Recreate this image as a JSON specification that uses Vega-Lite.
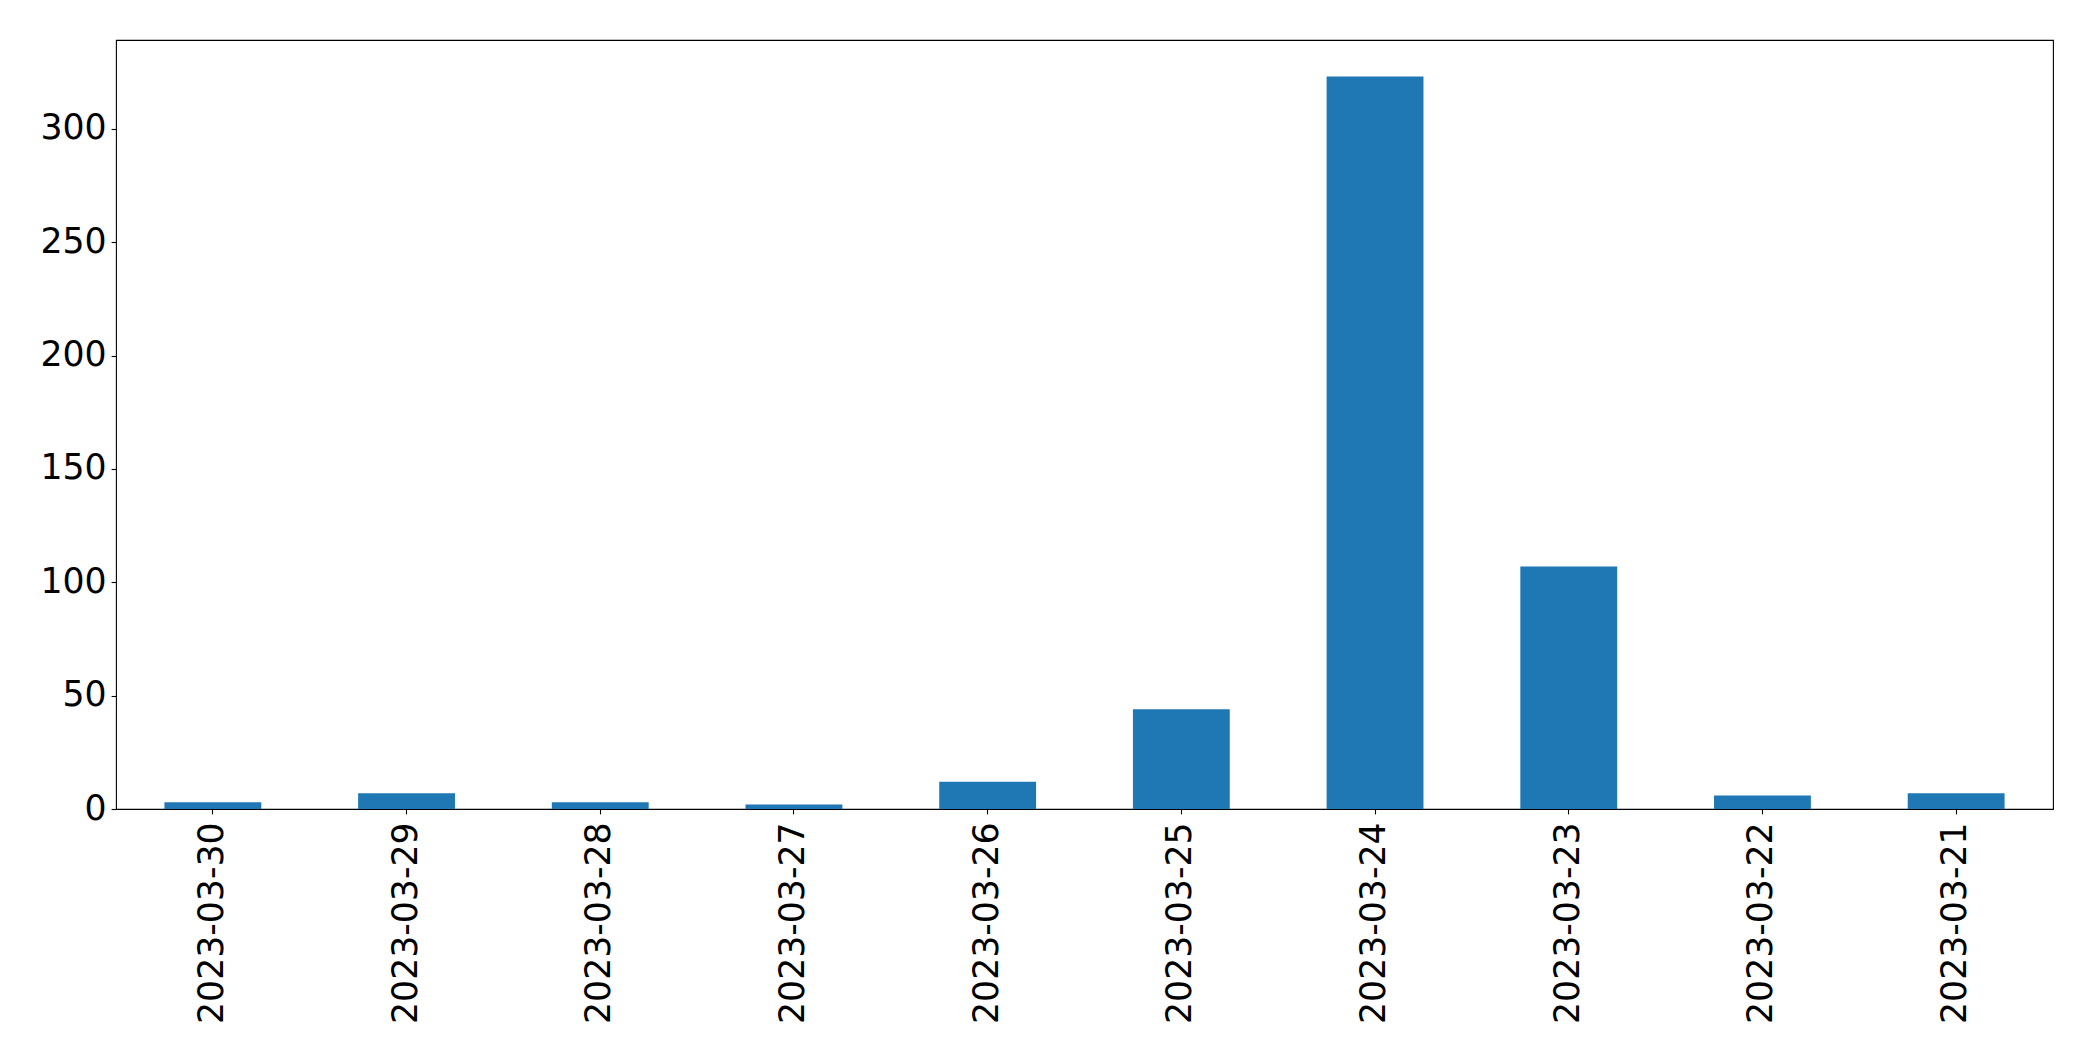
{
  "$schema": "https://vega.github.io/schema/vega-lite/v6.json",
  "autosize": {"type": "none"},
  "padding": {"left": 116, "top": 40, "right": 40, "bottom": 252},
  "width": 1937,
  "height": 769,
  "background": "white",
  "config": {
    "view": {"stroke": "black", "strokeWidth": 1.1},
    "font": "DejaVu Sans"
  },
  "data": {
    "values": [
      {"date": "2023-03-30", "count": 3},
      {"date": "2023-03-29", "count": 7},
      {"date": "2023-03-28", "count": 3},
      {"date": "2023-03-27", "count": 2},
      {"date": "2023-03-26", "count": 12},
      {"date": "2023-03-25", "count": 44},
      {"date": "2023-03-24", "count": 323},
      {"date": "2023-03-23", "count": 107},
      {"date": "2023-03-22", "count": 6},
      {"date": "2023-03-21", "count": 7}
    ]
  },
  "mark": {"type": "bar", "color": "#1f77b4"},
  "encoding": {
    "x": {
      "field": "date",
      "type": "nominal",
      "sort": null,
      "title": null,
      "scale": {"paddingInner": 0.5, "paddingOuter": 0.25},
      "axis": {
        "labelAngle": -90,
        "labelLimit": 0,
        "labelFont": "DejaVu Sans",
        "labelFontSize": 34.7,
        "labelColor": "black",
        "labelPadding": 8,
        "tickColor": "black",
        "tickWidth": 1.1,
        "tickSize": 4.9,
        "domain": false,
        "grid": false
      }
    },
    "y": {
      "field": "count",
      "type": "quantitative",
      "title": null,
      "scale": {"domain": [0, 339.15], "nice": false, "zero": true},
      "axis": {
        "values": [0, 50, 100, 150, 200, 250, 300],
        "labelFont": "DejaVu Sans",
        "labelFontSize": 34.7,
        "labelColor": "black",
        "labelPadding": 5,
        "tickColor": "black",
        "tickWidth": 1.1,
        "tickSize": 4.9,
        "domain": false,
        "grid": false
      }
    }
  }
}
